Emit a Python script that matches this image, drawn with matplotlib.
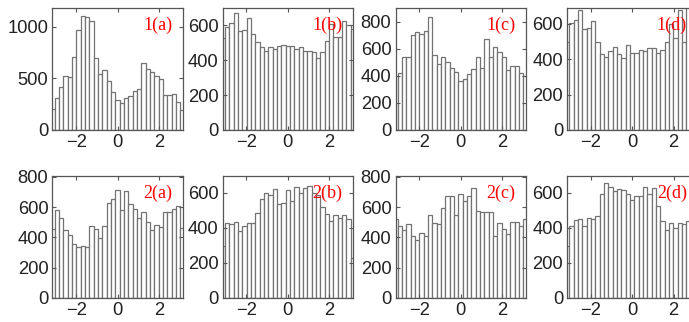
import numpy as np
import matplotlib
matplotlib.use("Agg")
import matplotlib.pyplot as plt

plt.rcParams['font.family'] = ['Liberation Sans', 'DejaVu Sans']

# Phase histograms: 31 bins with centres spanning [-pi, pi]
n_bins = 31
centers = np.linspace(-np.pi, np.pi, n_bins)

labels = ["1(a)", "1(b)", "1(c)", "1(d)", "2(a)", "2(b)", "2(c)", "2(d)"]

counts_1a = [200, 306, 413, 526, 513, 710, 968, 1106, 1090, 1058, 694, 542, 577, 474, 365,
             290, 265, 310, 330, 380, 400, 650, 590, 565, 520, 490, 335, 335, 345, 275, 190]
counts_1b = [528, 590, 615, 673, 567, 576, 644, 551, 503, 478, 455, 474, 464, 484, 489,
             484, 480, 464, 474, 451, 451, 449, 412, 445, 509, 609, 532, 532, 625, 600, 580]
counts_1c = [396, 421, 535, 535, 700, 720, 708, 733, 837, 552, 485, 535, 500, 460, 430,
             361, 374, 411, 448, 535, 460, 671, 535, 609, 577, 535, 441, 473, 473, 421, 400]
counts_1d = [499, 606, 623, 676, 571, 575, 619, 495, 429, 415, 444, 472, 432, 410, 482,
             438, 438, 453, 444, 463, 463, 434, 453, 495, 600, 520, 680, 500, 690, 620, 560]
counts_2a = [457, 579, 530, 446, 415, 354, 336, 343, 336, 475, 457, 398, 475, 630, 652,
             714, 579, 707, 619, 590, 526, 568, 502, 446, 480, 471, 568, 568, 586, 608, 464]
counts_2b = [295, 429, 419, 432, 381, 410, 429, 430, 486, 562, 600, 585, 619, 533, 539,
             615, 552, 632, 600, 629, 640, 600, 585, 520, 476, 438, 470, 457, 470, 448, 230]
counts_2c = [519, 475, 446, 486, 409, 382, 427, 409, 546, 493, 486, 597, 670, 670, 546,
             685, 641, 674, 725, 575, 570, 570, 568, 409, 493, 457, 424, 502, 502, 475, 519]
counts_2d = [295, 410, 442, 448, 410, 453, 448, 467, 594, 657, 632, 610, 619, 613, 590,
             558, 581, 581, 632, 590, 629, 524, 438, 390, 429, 400, 429, 419, 438, 420, 300]

all_counts = [counts_1a, counts_1b, counts_1c, counts_1d,
              counts_2a, counts_2b, counts_2c, counts_2d]
y_limits = [1180, 700, 900, 690, 805, 695, 805, 695]
y_ticks = [[0, 500, 1000], [0, 200, 400, 600], [0, 200, 400, 600, 800], [0, 200, 400, 600],
           [0, 200, 400, 600, 800], [0, 200, 400, 600], [0, 200, 400, 600, 800], [0, 200, 400, 600]]
x_ticks = [-2, 0, 2]

W, H = 689, 322
fig = plt.figure(figsize=(W / 100, H / 100), dpi=100)

col_left = [52.5, 222.7, 395.5, 567.3]
row_top = [8, 176]
ax_w, ax_h = 130, 122

edge = '#737373'
for i, (lab, cnt) in enumerate(zip(labels, all_counts)):
    r, c = divmod(i, 4)
    left = col_left[c] / W
    bottom = (H - row_top[r] - ax_h) / H
    ax = fig.add_axes([left, bottom, ax_w / W, ax_h / H])
    width = centers[1] - centers[0]
    ax.bar(centers, cnt, width=width, color='white', edgecolor=edge, linewidth=0.9)
    ax.set_xlim(-np.pi, np.pi)
    ax.set_ylim(0, y_limits[i])
    ax.set_xticks(x_ticks)
    ax.set_yticks(y_ticks[i])
    ax.tick_params(direction='in', length=3, width=0.8, color='#555555',
                   labelsize=13.2, labelcolor='#222222', top=True, right=True, pad=3)
    for s in ax.spines.values():
        s.set_color('#555555')
        s.set_linewidth(0.9)
    ax.text(0.92, 0.93, lab, transform=ax.transAxes, ha='right', va='top',
            color='red', fontsize=13, family=['Liberation Serif', 'DejaVu Serif'])

fig.savefig('out.png', dpi=100)
